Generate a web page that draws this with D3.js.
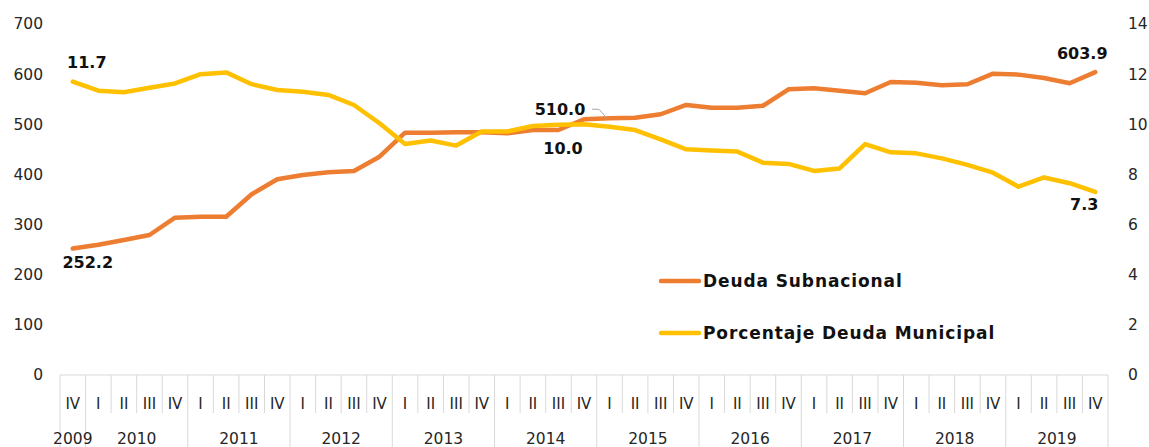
<!DOCTYPE html>
<html lang="es">
  <head>
    <meta charset="UTF-8" />
    <title>Deuda Subnacional</title>
    <style>
      html, body { margin: 0; padding: 0; background: #fff; }
      svg { display: block; font-family: "DejaVu Sans", sans-serif; }
    </style>
  </head>
  <body>
    <svg id="chart" width="1149" height="447"></svg>

    <script src="https://cdn.jsdelivr.net/npm/d3@7"></script>
    <script>
      // quarters from 2009 IV to 2019 IV
      const quarters = ["IV",
        "I","II","III","IV", "I","II","III","IV", "I","II","III","IV",
        "I","II","III","IV", "I","II","III","IV", "I","II","III","IV",
        "I","II","III","IV", "I","II","III","IV", "I","II","III","IV",
        "I","II","III","IV"];
      const years = ["2009","2010","2011","2012","2013","2014","2015","2016","2017","2018","2019"];
      // first category index of each year group
      const yearStart = [0, 1, 5, 9, 13, 17, 21, 25, 29, 33, 37];

      // Deuda Subnacional (left axis)
      const deuda = [252.2, 259.9, 269.2, 279.2, 313.7, 315.7, 315.7, 360.4, 390.3, 398.9,
        404.2, 406.8, 435.4, 483.3, 483.3, 484.0, 484.0, 482.0, 488.6, 488.6,
        510.0, 512.0, 513.0, 520.0, 538.5, 533.0, 533.0, 537.0, 569.8, 571.7,
        567.0, 561.8, 584.4, 583.0, 577.8, 579.8, 601.0, 599.0, 592.3, 581.8, 603.9];
      // Porcentaje Deuda Municipal (right axis)
      const pct = [11.7, 11.34, 11.28, 11.46, 11.63, 12.0, 12.07, 11.6, 11.37, 11.3,
        11.17, 10.77, 10.04, 9.21, 9.35, 9.15, 9.71, 9.71, 9.93, 9.98,
        10.0, 9.9, 9.77, 9.4, 9.0, 8.95, 8.91, 8.47, 8.42, 8.14,
        8.24, 9.21, 8.88, 8.84, 8.64, 8.38, 8.07, 7.51, 7.88, 7.65, 7.3];

      const leftTicks = [0, 100, 200, 300, 400, 500, 600, 700];
      const rightTicks = [0, 2, 4, 6, 8, 10, 12, 14];

      const svg = d3.select("#chart");
      const m = { left: 60, right: 1108, top: 24, bottom: 375 };

      const x = d3.scaleBand().domain(d3.range(quarters.length)).range([m.left, m.right]);
      const yL = d3.scaleLinear().domain([0, 700]).range([m.bottom, m.top]);
      const yR = d3.scaleLinear().domain([0, 14]).range([m.bottom, m.top]);
      const cx = (i) => x(i) + x.bandwidth() / 2;

      // ejes verticales (solo etiquetas)
      const axL = svg.append("g").attr("transform", `translate(${m.left - 15},0)`)
        .call(d3.axisLeft(yL).tickValues(leftTicks).tickSize(0).tickPadding(2));
      const axR = svg.append("g").attr("transform", `translate(${m.right + 18},0)`)
        .call(d3.axisRight(yR).tickValues(rightTicks).tickSize(0).tickPadding(2));
      [axL, axR].forEach((g) => {
        g.select(".domain").remove();
        g.selectAll("text").attr("font-size", 15.5).attr("fill", "#262626")
          .attr("font-family", "DejaVu Sans");
      });

      // eje de categorías
      const grid = "#d9d9d9";
      svg.append("line").attr("x1", m.left).attr("x2", m.right)
        .attr("y1", m.bottom).attr("y2", m.bottom).attr("stroke", grid);

      const bounds = d3.range(quarters.length + 1);
      svg.selectAll(".sep").data(bounds).enter().append("line")
        .attr("x1", (i) => (i < quarters.length ? x(i) : m.right))
        .attr("x2", (i) => (i < quarters.length ? x(i) : m.right))
        .attr("y1", m.bottom)
        .attr("y2", (i) => (yearStart.includes(i) || i === quarters.length ? 447 : 413))
        .attr("stroke", grid);

      svg.selectAll(".q").data(quarters).enter().append("text")
        .attr("x", (d, i) => cx(i)).attr("y", 409)
        .attr("text-anchor", "middle").attr("font-size", 15).attr("fill", "#262626")
        .text((d) => d);

      svg.selectAll(".yr").data(years).enter().append("text")
        .attr("x", (d, k) => {
          const a = yearStart[k];
          const b = k + 1 < yearStart.length ? yearStart[k + 1] : quarters.length;
          return (x(a) + (b < quarters.length ? x(b) : m.right)) / 2;
        })
        .attr("y", 444)
        .attr("text-anchor", "middle").attr("font-size", 15.5).attr("fill", "#262626")
        .text((d) => d);

      // líneas
      const lineL = d3.line().x((d, i) => cx(i)).y((d) => yL(d));
      const lineR = d3.line().x((d, i) => cx(i)).y((d) => yR(d));
      const orange = "#ED7D31", yellow = "#FFC000";

      svg.append("path").datum(deuda).attr("d", lineL)
        .attr("fill", "none").attr("stroke", orange).attr("stroke-width", 4.5)
        .attr("stroke-linejoin", "round").attr("stroke-linecap", "round");
      svg.append("path").datum(pct).attr("d", lineR)
        .attr("fill", "none").attr("stroke", yellow).attr("stroke-width", 4.5)
        .attr("stroke-linejoin", "round").attr("stroke-linecap", "round");

      // etiquetas de datos
      const last = quarters.length - 1;
      const labels = [
        { v: pct[0].toFixed(1), x: cx(0) + 14, y: yR(pct[0]) - 14 },
        { v: deuda[0].toFixed(1), x: cx(0) + 15, y: yL(deuda[0]) + 19 },
        { v: deuda[20].toFixed(1), x: cx(20) - 24, y: yL(deuda[20]) - 4 },
        { v: pct[20].toFixed(1), x: cx(20) - 21, y: yR(pct[20]) + 30 },
        { v: deuda[last].toFixed(1), x: cx(last) - 13, y: yL(deuda[last]) - 13 },
        { v: pct[last].toFixed(1), x: cx(last) - 11, y: yR(pct[last]) + 18 },
      ];
      svg.selectAll(".lbl").data(labels).enter().append("text")
        .attr("x", (d) => d.x).attr("y", (d) => d.y)
        .attr("text-anchor", "middle").attr("font-size", 16).attr("font-weight", "bold")
        .attr("fill", "#111").text((d) => d.v);

      // línea guía de 510.0
      svg.append("path")
        .attr("d", `M${cx(20) + 8},${yL(deuda[20]) - 10}H${cx(20) + 15}L${cx(20) + 23},${yL(deuda[20]) - 1}`)
        .attr("fill", "none").attr("stroke", "#a6a6a6").attr("stroke-width", 1);

      // leyenda
      const legend = [
        { name: "Deuda Subnacional", color: orange, y: 281 },
        { name: "Porcentaje Deuda Municipal", color: yellow, y: 333 },
      ];
      const lg = svg.selectAll(".lg").data(legend).enter().append("g");
      lg.append("line").attr("x1", 661).attr("x2", 699)
        .attr("y1", (d) => d.y).attr("y2", (d) => d.y)
        .attr("stroke", (d) => d.color).attr("stroke-width", 4.5).attr("stroke-linecap", "round");
      lg.append("text").attr("x", 703).attr("y", (d) => d.y + 6)
        .attr("font-size", 17).attr("font-weight", "bold").attr("fill", "#111")
        .attr("letter-spacing", 0.9)
        .text((d) => d.name);
    </script>
  </body>
</html>
